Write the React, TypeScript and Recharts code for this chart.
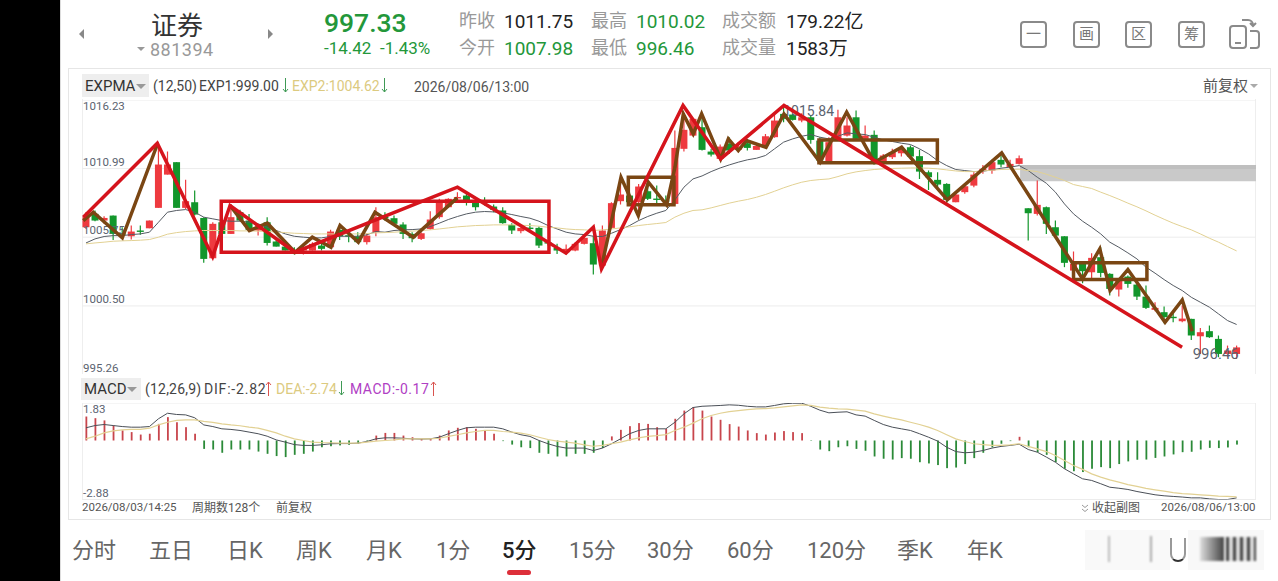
import React from "react";
import { ComposedChart, Bar, Line, XAxis, YAxis, CartesianGrid, ReferenceArea, ReferenceDot } from "recharts";

// ---------- candles (128 periods) ----------
const opens = [
  1006.51,1007.53,1007.02,1007.40,1006.05,1005.82,1006.26,1006.43,1007.99,1010.53,
  1011.48,1007.99,1008.42,1007.22,1004.14,1006.89,1006.00,1007.66,1007.02,1006.26,
  1006.89,1005.42,1005.03,1004.78,1004.73,1004.73,1005.11,1004.98,1006.31,1005.90,
  1005.82,1005.37,1006.13,1007.30,1007.20,1006.72,1006.00,1005.62,1006.38,1007.28,
  1008.04,1008.78,1008.93,1008.42,1008.52,1008.09,1007.79,1006.69,1006.21,1006.48,
  1006.46,1005.37,1004.93,1004.60,1004.73,1005.24,1005.29,1003.58,1006.46,1008.50,
  1008.93,1008.42,1009.26,1008.70,1008.57,1008.29,1012.50,1013.51,1014.15,1012.29,
  1011.73,1012.88,1012.42,1012.93,1012.42,1012.75,1013.39,1015.17,1015.12,1014.66,
  1014.91,1013.13,1011.48,1013.26,1013.51,1014.91,1013.26,1013.57,1011.55,1011.86,
  1012.16,1012.62,1011.94,1010.71,1010.13,1009.82,1008.42,1009.19,1009.69,1010.84,
  1010.84,1011.66,1011.10,1011.35,1007.96,1007.53,1008.04,1006.51,1005.82,1003.20,
  1003.71,1003.07,1004.22,1002.95,1001.75,1002.74,1002.13,1001.21,1000.20,1000.02,
  999.67,999.33,999.51,998.18,998.57,997.98,996.83,996.83,
];
const highs = [
  1007.66,1007.79,1007.35,1007.40,1006.51,1006.64,1006.64,1007.02,1013.01,1012.29,
  1011.48,1010.13,1009.31,1007.28,1006.89,1007.15,1008.29,1007.84,1007.53,1006.72,
  1007.28,1005.62,1005.11,1004.98,1005.03,1005.37,1005.24,1006.31,1006.64,1006.31,
  1006.13,1006.05,1008.04,1007.66,1007.40,1006.89,1006.13,1006.13,1007.73,1008.68,
  1008.73,1009.19,1009.19,1008.68,1008.80,1008.24,1008.04,1006.82,1006.51,1006.82,
  1006.56,1005.49,1005.24,1005.19,1005.37,1006.00,1005.87,1006.64,1008.42,1010.33,
  1009.19,1009.82,1010.20,1009.69,1008.93,1013.90,1015.17,1014.79,1015.17,1012.50,
  1012.83,1013.39,1013.01,1013.26,1012.83,1013.64,1015.17,1015.81,1015.17,1015.22,
  1015.04,1013.39,1013.39,1015.48,1014.91,1015.42,1014.28,1013.90,1012.11,1012.50,
  1012.75,1012.75,1012.42,1010.84,1010.71,1009.87,1009.06,1009.75,1010.71,1011.27,
  1011.66,1011.99,1011.66,1011.99,1007.96,1010.08,1008.09,1007.02,1005.82,1004.65,
  1003.84,1004.53,1004.98,1003.00,1002.56,1002.82,1002.18,1002.06,1000.78,1000.45,
  999.94,1000.53,999.51,998.82,999.00,998.24,997.47,997.47,
];
const lows = [
  1006.38,1006.97,1006.77,1005.54,1005.62,1005.57,1005.93,1006.43,1007.99,1010.53,
  1007.99,1007.91,1007.40,1003.79,1004.14,1006.00,1006.00,1006.97,1006.15,1005.87,
  1005.11,1005.03,1004.73,1004.42,1004.42,1004.73,1004.73,1004.98,1005.54,1005.37,
  1005.29,1005.19,1005.82,1007.02,1006.72,1005.62,1005.37,1005.54,1006.31,1007.15,
  1007.99,1008.60,1008.17,1007.79,1008.17,1007.66,1006.77,1006.00,1006.05,1006.13,
  1004.93,1005.11,1004.47,1004.42,1004.68,1005.19,1002.90,1003.25,1006.38,1008.24,
  1008.29,1007.28,1008.60,1008.35,1008.29,1008.24,1012.29,1013.44,1012.37,1011.91,
  1011.66,1012.11,1012.24,1012.37,1012.42,1012.67,1013.34,1014.53,1014.66,1014.53,
  1012.88,1011.55,1011.48,1013.18,1013.44,1013.13,1013.18,1011.30,1011.48,1011.73,
  1011.91,1011.86,1010.20,1009.36,1009.57,1008.35,1008.42,1009.06,1009.57,1010.59,
  1010.59,1011.10,1010.97,1011.30,1005.49,1007.40,1006.00,1005.82,1003.46,1002.56,
  1002.23,1002.56,1002.69,1001.29,1001.21,1001.88,1000.96,1000.27,1000.09,999.18,
  999.25,999.25,997.90,996.83,998.06,996.58,996.58,996.46,
];
const closes = [
  1007.28,1007.02,1007.22,1006.00,1005.95,1006.18,1006.21,1007.02,1011.30,1011.30,
  1007.99,1008.50,1007.48,1004.09,1006.77,1006.00,1007.28,1007.02,1006.31,1006.51,
  1005.31,1005.03,1004.73,1004.71,1004.98,1005.24,1004.86,1006.18,1005.82,1005.85,
  1005.37,1005.87,1007.28,1007.25,1006.77,1006.00,1005.67,1006.05,1007.10,1008.50,
  1008.68,1008.82,1008.55,1008.04,1008.48,1007.84,1006.82,1006.26,1006.46,1006.43,
  1005.11,1005.31,1004.73,1004.86,1005.24,1005.70,1003.66,1006.26,1008.35,1009.01,
  1008.42,1009.62,1008.68,1008.66,1008.53,1012.57,1013.95,1014.79,1012.42,1012.06,
  1012.67,1012.37,1012.67,1012.57,1012.72,1013.46,1014.66,1014.79,1014.71,1014.91,
  1013.18,1011.60,1013.01,1014.91,1014.28,1013.26,1013.51,1011.48,1011.99,1012.24,
  1012.50,1011.91,1010.76,1010.33,1009.77,1008.60,1009.01,1009.64,1010.53,1010.97,
  1011.48,1011.30,1011.35,1011.78,1007.58,1008.22,1006.77,1005.87,1003.79,1003.71,
  1003.15,1004.17,1003.02,1001.80,1002.49,1002.18,1001.21,1000.35,1000.35,999.64,
  999.62,999.53,998.24,998.49,998.11,996.83,997.09,997.33,
];
const exp1 = [
  1005.31,1005.62,1005.80,1005.87,1005.87,1005.95,1006.00,1006.13,1006.89,1007.66,
  1007.79,1007.86,1007.66,1007.28,1007.15,1007.02,1006.97,1006.97,1006.89,1006.77,
  1006.51,1006.26,1006.00,1005.82,1005.75,1005.70,1005.70,1005.80,1005.82,1005.82,
  1005.82,1005.93,1006.18,1006.13,1006.26,1006.31,1006.33,1006.38,1006.56,1006.82,
  1007.10,1007.33,1007.53,1007.66,1007.71,1007.68,1007.61,1007.48,1007.33,1007.20,
  1006.97,1006.64,1006.38,1006.13,1006.00,1005.95,1005.82,1005.80,1006.05,1006.33,
  1006.64,1007.02,1007.33,1007.58,1007.79,1008.60,1009.57,1010.20,1010.43,1010.76,
  1011.04,1011.27,1011.48,1011.66,1011.78,1011.99,1012.50,1013.01,1013.26,1013.46,
  1013.59,1013.39,1013.26,1013.46,1013.72,1013.64,1013.59,1013.39,1013.18,1013.06,
  1012.93,1012.83,1012.50,1012.11,1011.60,1011.22,1010.92,1010.84,1010.76,1010.79,
  1010.89,1011.02,1011.10,1011.22,1010.84,1010.33,1009.87,1009.19,1008.29,1007.53,
  1006.97,1006.51,1006.00,1005.37,1004.98,1004.55,1004.09,1003.46,1003.00,1002.51,
  1002.06,1001.67,1001.16,1000.78,1000.40,999.89,999.38,999.08,
];
const exp2 = [
  1005.24,1005.31,1005.37,1005.44,1005.47,1005.49,1005.52,1005.57,1005.75,1005.98,
  1006.10,1006.18,1006.23,1006.26,1006.26,1006.26,1006.26,1006.23,1006.23,1006.21,
  1006.18,1006.15,1006.10,1006.05,1006.03,1006.00,1006.00,1006.00,1006.00,1006.00,
  1006.00,1006.03,1006.08,1006.10,1006.13,1006.18,1006.21,1006.26,1006.31,1006.38,
  1006.46,1006.54,1006.59,1006.64,1006.66,1006.69,1006.69,1006.69,1006.66,1006.64,
  1006.59,1006.51,1006.46,1006.38,1006.33,1006.31,1006.26,1006.31,1006.38,1006.46,
  1006.54,1006.64,1006.72,1006.79,1006.87,1007.28,1007.58,1007.79,1007.84,1007.99,
  1008.17,1008.35,1008.50,1008.63,1008.80,1009.01,1009.26,1009.52,1009.75,1009.95,
  1010.08,1010.15,1010.20,1010.38,1010.59,1010.74,1010.84,1010.92,1010.97,1011.00,
  1011.02,1011.04,1011.04,1011.02,1010.97,1010.89,1010.81,1010.76,1010.76,1010.81,
  1010.87,1010.92,1010.94,1010.94,1010.84,1010.76,1010.56,1010.33,1010.08,1009.77,
  1009.62,1009.47,1009.19,1008.93,1008.65,1008.35,1008.07,1007.76,1007.43,1007.12,
  1006.82,1006.56,1006.31,1006.00,1005.67,1005.37,1005.03,1004.70,
];

// ---------- MACD ----------
const macdBars = [
  1.17,1.09,.98,.73,.49,.41,.29,.33,.81,1.14,
  .89,.65,.33,-.41,-.44,-.60,-.44,-.44,-.44,-.54,
  -.65,-.76,-.81,-.70,-.65,-.54,-.33,-.28,-.24,-.21,
  -.16,-.03,.24,.37,.37,.24,.16,.08,.08,.24,
  .49,.62,.65,.57,.49,.33,-.03,-.20,-.33,-.37,
  -.60,-.65,-.78,-.78,-.65,-.65,-.60,-.37,.20,.52,
  .70,.85,.81,.65,.57,1.06,1.46,1.63,1.46,1.17,
  1.01,.80,.68,.49,.36,.29,.39,.46,.41,.36,
  -.02,-.44,-.52,-.33,-.28,-.41,-.50,-.78,-.89,-.93,
  -.86,-.89,-1.06,-1.12,-1.20,-1.35,-1.32,-1.15,-.86,-.60,
  -.33,-.16,-.03,.18,-.33,-.57,-.70,-1.06,-1.38,-1.50,
  -1.54,-1.38,-1.30,-1.35,-1.15,-1.02,-.94,-.93,-.85,-.78,
  -.68,-.57,-.55,-.44,-.36,-.37,-.34,-.20,
];
const dif = [
  .62,.73,.78,.73,.68,.65,.65,.68,1.06,1.33,
  1.27,1.25,1.11,.76,.68,.57,.54,.49,.41,.33,
  .21,.03,-.08,-.20,-.24,-.24,-.21,-.16,-.15,-.15,
  -.13,-.05,.08,.13,.13,.11,.08,.07,.08,.16,
  .33,.49,.62,.65,.65,.65,.57,.41,.28,.20,
  0,-.16,-.29,-.37,-.37,-.37,-.49,-.37,-.16,.08,
  .33,.49,.57,.57,.57,.89,1.30,1.61,1.67,1.69,
  1.71,1.74,1.72,1.67,1.64,1.64,1.71,1.79,1.82,1.82,
  1.67,1.48,1.35,1.38,1.40,1.25,1.19,.98,.78,.65,
  .57,.49,.33,.16,-.03,-.33,-.54,-.60,-.57,-.49,
  -.37,-.29,-.24,-.18,-.44,-.57,-.81,-1.06,-1.38,-1.63,
  -1.87,-1.95,-2.11,-2.28,-2.33,-2.39,-2.49,-2.57,-2.65,-2.70,
  -2.73,-2.76,-2.80,-2.80,-2.85,-2.88,-2.88,-2.80,
];
const dea = [
  .08,.21,.37,.47,.52,.54,.54,.60,.76,.89,
  .98,1.01,1.01,.93,.88,.81,.76,.72,.65,.60,
  .49,.37,.21,.08,0,-.08,-.10,-.11,-.13,-.13,
  -.13,-.08,-.03,0,.03,.08,.08,.08,.08,.11,
  .20,.28,.37,.44,.49,.49,.44,.41,.36,.28,
  .16,.05,-.03,-.08,-.13,-.21,-.28,-.24,-.16,-.08,
  .03,.13,.20,.24,.29,.49,.65,.85,1.06,1.22,
  1.33,1.41,1.46,1.51,1.54,1.56,1.59,1.64,1.69,1.74,
  1.71,1.63,1.58,1.54,1.53,1.48,1.43,1.30,1.19,1.09,
  1.01,.89,.78,.65,.49,.28,.08,-.05,-.16,-.20,
  -.24,-.24,-.21,-.16,-.29,-.41,-.54,-.73,-.98,-1.22,
  -1.41,-1.63,-1.79,-1.92,-2.03,-2.15,-2.24,-2.34,-2.41,-2.47,
  -2.54,-2.59,-2.62,-2.65,-2.68,-2.72,-2.73,-2.75,
];

// ---------- hand-drawn annotations, in (period, price) ----------
const redPeriods = [-0.3,7.87,13.98,15.9,23.07,41,52.98,56,56.9,65.9,70.05,77.04,120.98];
const redPrices = [1007.28,1012.93,1004.27,1008.17,1004.6,1009.57,1004.53,1006.51,1003.33,1015.81,1011.73,1015.81,997.34];
const brownPeriods = [
  -0.3,0.81,4.01,7.87,8,
  15.9,18.03,20.01,23.07,24.98,27.04,28.04,30.06,31.9,36.13,40.98,41.1,
  56.9,59.05,60.96,62.07,64.09,65.01,65.93,67.03,67.95,70.05,70.9,72,72.9,75.06,77.04,81.02,83.96,87,90.03,95.07,101.07,110,111.9,113.03,115,119.1,121,122.1,
];
const brownPrices: (number | null)[] = [
  1007.02,1007.66,1005.7,1012.83,null,
  1008.17,1006.26,1006.82,1004.6,1005.75,1004.98,1006.64,1005.37,1007.66,1005.75,1008.75,null,
  1003.46,1010.33,1007.4,1009.95,1008.22,1011.1,1015.17,1013.64,1015.17,1011.73,1013.26,1012.37,1013.13,1012.62,1015.17,1011.48,1015.3,1011.48,1012.62,1008.6,1012.19,1002.56,1004.86,1001.67,1003.28,999.25,1000.96,998.57,
];
const boxes = [
  { from: 14.93, to: 51.1, top: 1008.5, bottom: 1004.6, color: "#d5141c" },
  { from: 59.86, to: 64.9, top: 1010.33, bottom: 1008.22, color: "#7a4613" },
  { from: 80.9, to: 93.97, top: 1013.18, bottom: 1011.43, color: "#7a4613" },
  { from: 109, to: 117.1, top: 1003.79, bottom: 1002.51, color: "#7a4613" },
];

const priceTicks = [1016.23, 1010.99, 1005.75, 1000.5, 995.26];
const macdTicks = [1.83, -2.88];
const tabs = ["分时","五日","日K","周K","月K","1分","5分","15分","30分","60分","120分","季K","年K"];
const tabLefts = [72,149,227,296,366,436,502,569,647,727,807,897,967];

const candleData = opens.map((o, i) => ({
  i, o, h: highs[i], l: lows[i], c: closes[i], range: [lows[i], highs[i]], exp1: exp1[i], exp2: exp2[i],
}));
const macdData = macdBars.map((m, i) => ({ i, m, dif: dif[i], dea: dea[i] }));
const redData = redPeriods.map((i, k) => ({ i, y: redPrices[k] }));
const brownData = brownPeriods.map((i, k) => ({ i, y: brownPrices[k] }));

const UP = "#ee3a3f";
const DOWN = "#12962b";
const FONT = 'Roboto, "Noto Sans CJK SC", sans-serif';
const X_DOMAIN: [number, number] = [-0.44, 129.14];
const P_DOMAIN: [number, number] = [995.26, 1016.23];

function Candle(props: any) {
  const { x, y, width, height, payload } = props;
  const span = payload.h - payload.l || 1;
  const k = height / span;
  const up = payload.c >= payload.o;
  const color = up ? UP : DOWN;
  const top = y + (payload.h - Math.max(payload.o, payload.c)) * k;
  const h = Math.max(1.4, Math.abs(payload.o - payload.c) * k);
  const cx = x + width / 2;
  return (
    <g>
      <line x1={cx} x2={cx} y1={y} y2={y + height} stroke={color} strokeWidth={1.2} />
      <rect x={x} y={top} width={width} height={h} fill={color} />
    </g>
  );
}

function MacdBar(props: any) {
  const { x, y, width, height, payload } = props;
  const t = height < 0 ? y + height : y;
  return <rect x={x} y={t} width={width} height={Math.abs(height)} fill={payload.m >= 0 ? "#c8454c" : "#2b8a38"} />;
}

function AxisTick(props: any) {
  const { y, payload, topValue } = props;
  const isTop = payload.value === topValue;
  return (
    <text x={1} y={isTop ? y + 5.5 : y - 7} dominantBaseline="central" fontSize={11.5} fontFamily={FONT} fill="#5b6370">
      {payload.value.toFixed(2)}
    </text>
  );
}

function Txt({ x, y, s, c, w, children, ls }: any) {
  return (
    <span style={{ position: "absolute", left: x, top: y, transform: "translateY(-50%)", fontSize: s, color: c, fontWeight: w || 400, whiteSpace: "nowrap", lineHeight: 1, fontFamily: FONT, letterSpacing: ls }}>
      {children}
    </span>
  );
}

function Tri({ x, y, dir, size, color }: any) {
  const s = size || 4;
  const c = color || "#999";
  const st: any = { position: "absolute", left: x, top: y, width: 0, height: 0 };
  if (dir === "down") { st.borderLeft = `${s}px solid transparent`; st.borderRight = `${s}px solid transparent`; st.borderTop = `${s}px solid ${c}`; }
  if (dir === "left") { st.borderTop = `${s}px solid transparent`; st.borderBottom = `${s}px solid transparent`; st.borderRight = `${s}px solid ${c}`; }
  if (dir === "right") { st.borderTop = `${s}px solid transparent`; st.borderBottom = `${s}px solid transparent`; st.borderLeft = `${s}px solid ${c}`; }
  return <div style={st} />;
}

function Arrow({ x, y, up, color }: any) {
  return (
    <svg style={{ position: "absolute", left: x, top: y }} width={7} height={15} fill="none" stroke={color} strokeWidth={1}>
      {up ? <path d="M3.5 15 V1 M1 4 L3.5 1 L6 4" /> : <path d="M3.5 0 V14 M1 11 L3.5 14 L6 11" />}
    </svg>
  );
}

function IconBox({ x, label }: any) {
  return (
    <div style={{ position: "absolute", left: x, top: 21, width: 23, height: 23, border: "2px solid #8a8a8a", borderRadius: 4, display: "flex", alignItems: "center", justifyContent: "center", fontSize: 15, color: "#777", fontFamily: FONT, lineHeight: 1 }}>
      {label}
    </div>
  );
}

export default function App() {
  const G = "#23973a";
  return (
    <div style={{ position: "absolute", left: 0, top: 0, width: 1278, height: 581, overflow: "hidden", background: "#fff", fontFamily: FONT }}>
      <div style={{ position: "absolute", left: 0, top: 0, width: 60, height: 581, background: "#000" }} />
      <div style={{ position: "absolute", left: 60, top: 0, width: 1, height: 581, background: "#ddd" }} />
      {/* header */}
      <Tri x={79} y={29} dir="left" size={5} color="#888" />
      <Tri x={268} y={29} dir="right" size={5} color="#888" />
      <Txt x={151} y={26} s={26} c="#333">证券</Txt>
      <Tri x={137} y={47} dir="down" size={4.5} color="#999" />
      <Txt x={150} y={50} s={18} c="#999" ls={0.5}>881394</Txt>
      <Txt x={324} y={23} s={26.5} c={G} w={500}>997.33</Txt>
      <Txt x={324} y={48} s={17} c={G}>-14.42</Txt>
      <Txt x={380} y={48} s={17} c={G}>-1.43%</Txt>
      <Txt x={459} y={21} s={18} c="#999">昨收</Txt>
      <Txt x={504} y={21} s={19} c="#222">1011.75</Txt>
      <Txt x={591} y={21} s={18} c="#999">最高</Txt>
      <Txt x={636} y={21} s={19} c={G}>1010.02</Txt>
      <Txt x={459} y={48} s={18} c="#999">今开</Txt>
      <Txt x={504} y={48} s={19} c={G}>1007.98</Txt>
      <Txt x={591} y={48} s={18} c="#999">最低</Txt>
      <Txt x={636} y={48} s={19} c={G}>996.46</Txt>
      <Txt x={722} y={21} s={18} c="#999">成交额</Txt>
      <Txt x={786} y={21} s={19} c="#222">179.22亿</Txt>
      <Txt x={722} y={48} s={18} c="#999">成交量</Txt>
      <Txt x={786} y={48} s={19} c="#222">1583万</Txt>
      <IconBox x={1020} label="一" />
      <IconBox x={1073} label="画" />
      <IconBox x={1125} label="区" />
      <IconBox x={1178} label="筹" />
      <svg style={{ position: "absolute", left: 1228, top: 18 }} width={33} height={32} fill="none" stroke="#8a8a8a" strokeWidth={2}>
        <rect x={2} y={8} width={16} height={22} rx={3} />
        <line x1={7} x2={13} y1={25} y2={25} />
        <path d="M22 13 h6 a3 3 0 0 1 3 3 v11 a3 3 0 0 1 -3 3 h-6" />
        <path d="M14 2 h6 a5 5 0 0 1 5 5 m-3 -2 l3 3 l3 -3" />
      </svg>

      {/* card */}
      <div style={{ position: "absolute", left: 68, top: 68, width: 1201, height: 450, border: "1px solid #e6e6e6" }} />

      {/* EXPMA legend row */}
      <div style={{ position: "absolute", left: 82, top: 74, width: 67, height: 23, background: "#eeeeee" }} />
      <Txt x={85} y={86} s={15} c="#333">EXPMA</Txt>
      <Tri x={136} y={84} dir="down" size={5} color="#999" />
      <Txt x={153} y={86} s={14} c="#444">(12,50)</Txt>
      <Txt x={199} y={86} s={14} c="#444">EXP1:999.00</Txt>
      <Arrow x={282} y={78} color="#3f9a55" />
      <Txt x={292} y={86} s={14} c="#dcca80">EXP2:1004.62</Txt>
      <Arrow x={381} y={78} color="#3f9a55" />
      <Txt x={414} y={87} s={14} c="#555">2026/08/06/13:00</Txt>
      <Txt x={1203} y={86} s={15} c="#555">前复权</Txt>
      <Tri x={1250} y={84} dir="down" size={4.5} color="#aaa" />

      {/* MACD legend row */}
      <div style={{ position: "absolute", left: 81, top: 378, width: 60, height: 22, background: "#eeeeee" }} />
      <Txt x={84} y={389} s={15} c="#333">MACD</Txt>
      <Tri x={127} y={387} dir="down" size={5} color="#999" />
      <Txt x={145} y={389} s={14} c="#444" ls={0.2}>(12,26,9)</Txt>
      <Txt x={204} y={389} s={14} c="#444" ls={0.8}>DIF:-2.82</Txt>
      <Arrow x={265} y={381} up color="#d9534f" />
      <Txt x={276} y={389} s={14} c="#dcca80">DEA:-2.74</Txt>
      <Arrow x={338} y={381} color="#3f9a55" />
      <Txt x={350} y={389} s={14} c="#b040c4" ls={0.5}>MACD:-0.17</Txt>
      <Arrow x={430} y={381} up color="#d9534f" />

      {/* price panel */}
      <div style={{ position: "absolute", left: 82, top: 99, width: 1174, height: 275, boxSizing: "border-box", borderLeft: "1px solid #eeeeee", borderRight: "1px solid #eeeeee" }} />
      <div style={{ position: "absolute", left: 82, top: 99.5 }}>
        <ComposedChart width={1174} height={274.5} data={candleData} margin={{ top: 0, right: 0, bottom: 0, left: 0 }}>
          <CartesianGrid vertical={false} stroke="#ececec" strokeWidth={1} />
          <XAxis type="number" dataKey="i" domain={X_DOMAIN} hide allowDataOverflow />
          <YAxis type="number" domain={P_DOMAIN} ticks={priceTicks} interval={0} mirror axisLine={false} tickLine={false} tick={<AxisTick topValue={priceTicks[0]} />} allowDataOverflow />
          <ReferenceArea x1={103.1} x2={129.14} y1={1011.27} y2={1010.03} fill="#c9c9c9" fillOpacity={1} stroke="none" />
          <ReferenceArea x1={103.1} x2={129.14} y1={1011.27} y2={1010.95} fill="#bfbfbf" fillOpacity={1} stroke="none" />
          <Bar dataKey="range" barSize={7} isAnimationActive={false} shape={<Candle />} />
          <Line dataKey="exp1" stroke="#555b63" strokeWidth={1} dot={false} activeDot={false} isAnimationActive={false} />
          <Line dataKey="exp2" stroke="#e2d193" strokeWidth={1} dot={false} activeDot={false} isAnimationActive={false} />
          <ReferenceDot x={76.4} y={1015.35} r={0} fill="none" stroke="none" label={{ value: "1015.84", position: "right", fontSize: 14, fill: "#5b6370", fontFamily: FONT }} />
          <ReferenceDot x={121.6} y={996.86} r={0} fill="none" stroke="none" label={{ value: "996.46", position: "right", fontSize: 15, fill: "#5b6370", fontFamily: FONT }} ifOverflow="visible" />
        </ComposedChart>
      </div>
      {/* drawn-over annotations */}
      <div style={{ position: "absolute", left: 82, top: 99.5 }}>
        <ComposedChart width={1174} height={274.5} margin={{ top: 0, right: 0, bottom: 0, left: 0 }}>
          <XAxis type="number" dataKey="i" domain={X_DOMAIN} hide allowDataOverflow />
          <YAxis type="number" domain={P_DOMAIN} hide allowDataOverflow />
          {boxes.map((b, k) => (
            <ReferenceArea key={k} x1={b.from} x2={b.to} y1={b.top} y2={b.bottom} fill="none" fillOpacity={0} stroke={b.color} strokeWidth={3.5} ifOverflow="visible" />
          ))}
          <Line data={brownData} dataKey="y" stroke="#7a4613" strokeWidth={3.5} dot={false} activeDot={false} isAnimationActive={false} strokeLinejoin="miter" />
          <Line data={redData} dataKey="y" stroke="#d5141c" strokeWidth={3.5} dot={false} activeDot={false} isAnimationActive={false} strokeLinejoin="miter" />
        </ComposedChart>
      </div>

      {/* MACD panel */}
      <div style={{ position: "absolute", left: 82, top: 403, width: 1174, height: 97, boxSizing: "border-box", borderLeft: "1px solid #eeeeee", borderRight: "1px solid #eeeeee" }} />
      <div style={{ position: "absolute", left: 82, top: 403 }}>
        <ComposedChart width={1174} height={96.5} data={macdData} margin={{ top: 0, right: 0, bottom: 0, left: 0 }}>
          <CartesianGrid vertical={false} stroke="#ececec" strokeWidth={1} />
          <XAxis type="number" dataKey="i" domain={X_DOMAIN} hide allowDataOverflow />
          <YAxis type="number" domain={[-2.88, 1.83]} ticks={macdTicks} interval={0} mirror axisLine={false} tickLine={false} tick={<AxisTick topValue={macdTicks[0]} />} allowDataOverflow />
          <Bar dataKey="m" barSize={1.8} isAnimationActive={false} shape={<MacdBar />} />
          <Line dataKey="dif" stroke="#4a4f57" strokeWidth={1} dot={false} activeDot={false} isAnimationActive={false} />
          <Line dataKey="dea" stroke="#e2d193" strokeWidth={1.2} dot={false} activeDot={false} isAnimationActive={false} />
        </ComposedChart>
      </div>

      {/* footer of the card */}
      <Txt x={82} y={508} s={11.5} c="#555">2026/08/03/14:25</Txt>
      <Txt x={192} y={508} s={12} c="#555">周期数128个</Txt>
      <Txt x={276} y={508} s={12} c="#555">前复权</Txt>
      <svg style={{ position: "absolute", left: 1081, top: 504 }} width={8} height={9} fill="none" stroke="#999" strokeWidth={1}>
        <path d="M1 1 L4 3.5 L7 1 M1 5 L4 7.5 L7 5" />
      </svg>
      <Txt x={1092} y={508} s={12} c="#555">收起副图</Txt>
      <Txt x={1161} y={508} s={11.5} c="#555">2026/08/06/13:00</Txt>

      {/* tabs */}
      {tabs.map((t, k) => (
        <Txt key={t} x={tabLefts[k]} y={551} s={22} c={t === "5分" ? "#222" : "#666"} w={t === "5分" ? 500 : 400}>{t}</Txt>
      ))}
      <div style={{ position: "absolute", left: 507, top: 570, width: 24, height: 4.5, borderRadius: 3, background: "#dd2f3a" }} />

      {/* blurred watermark */}
      <div style={{ position: "absolute", left: 1085, top: 530, width: 85, height: 40, background: "#f9f9f9" }} />
      <div style={{ position: "absolute", left: 1188, top: 530, width: 76, height: 40, background: "#f8f8f8" }} />
      <div style={{ position: "absolute", left: 1108, top: 536, width: 2, height: 26, background: "#bbb", filter: "blur(0.8px)" }} />
      <div style={{ position: "absolute", left: 1150, top: 536, width: 2, height: 26, background: "#aaa", filter: "blur(0.8px)" }} />
      <div style={{ position: "absolute", left: 1170, top: 538, width: 16, height: 24, borderLeft: "2px solid #999", borderRight: "2px solid #999", borderBottom: "2px solid #333", borderRadius: "0 0 8px 8px", boxSizing: "border-box" }} />
      <div style={{ position: "absolute", left: 1200, top: 537, width: 24, height: 24, background: "linear-gradient(90deg,#ddd,#444)", filter: "blur(1.2px)" }} />
      <div style={{ position: "absolute", left: 1226, top: 537, width: 30, height: 24, background: "repeating-linear-gradient(90deg,#444 0 3px,#ddd 3px 7px)", filter: "blur(1px)" }} />
    </div>
  );
}
